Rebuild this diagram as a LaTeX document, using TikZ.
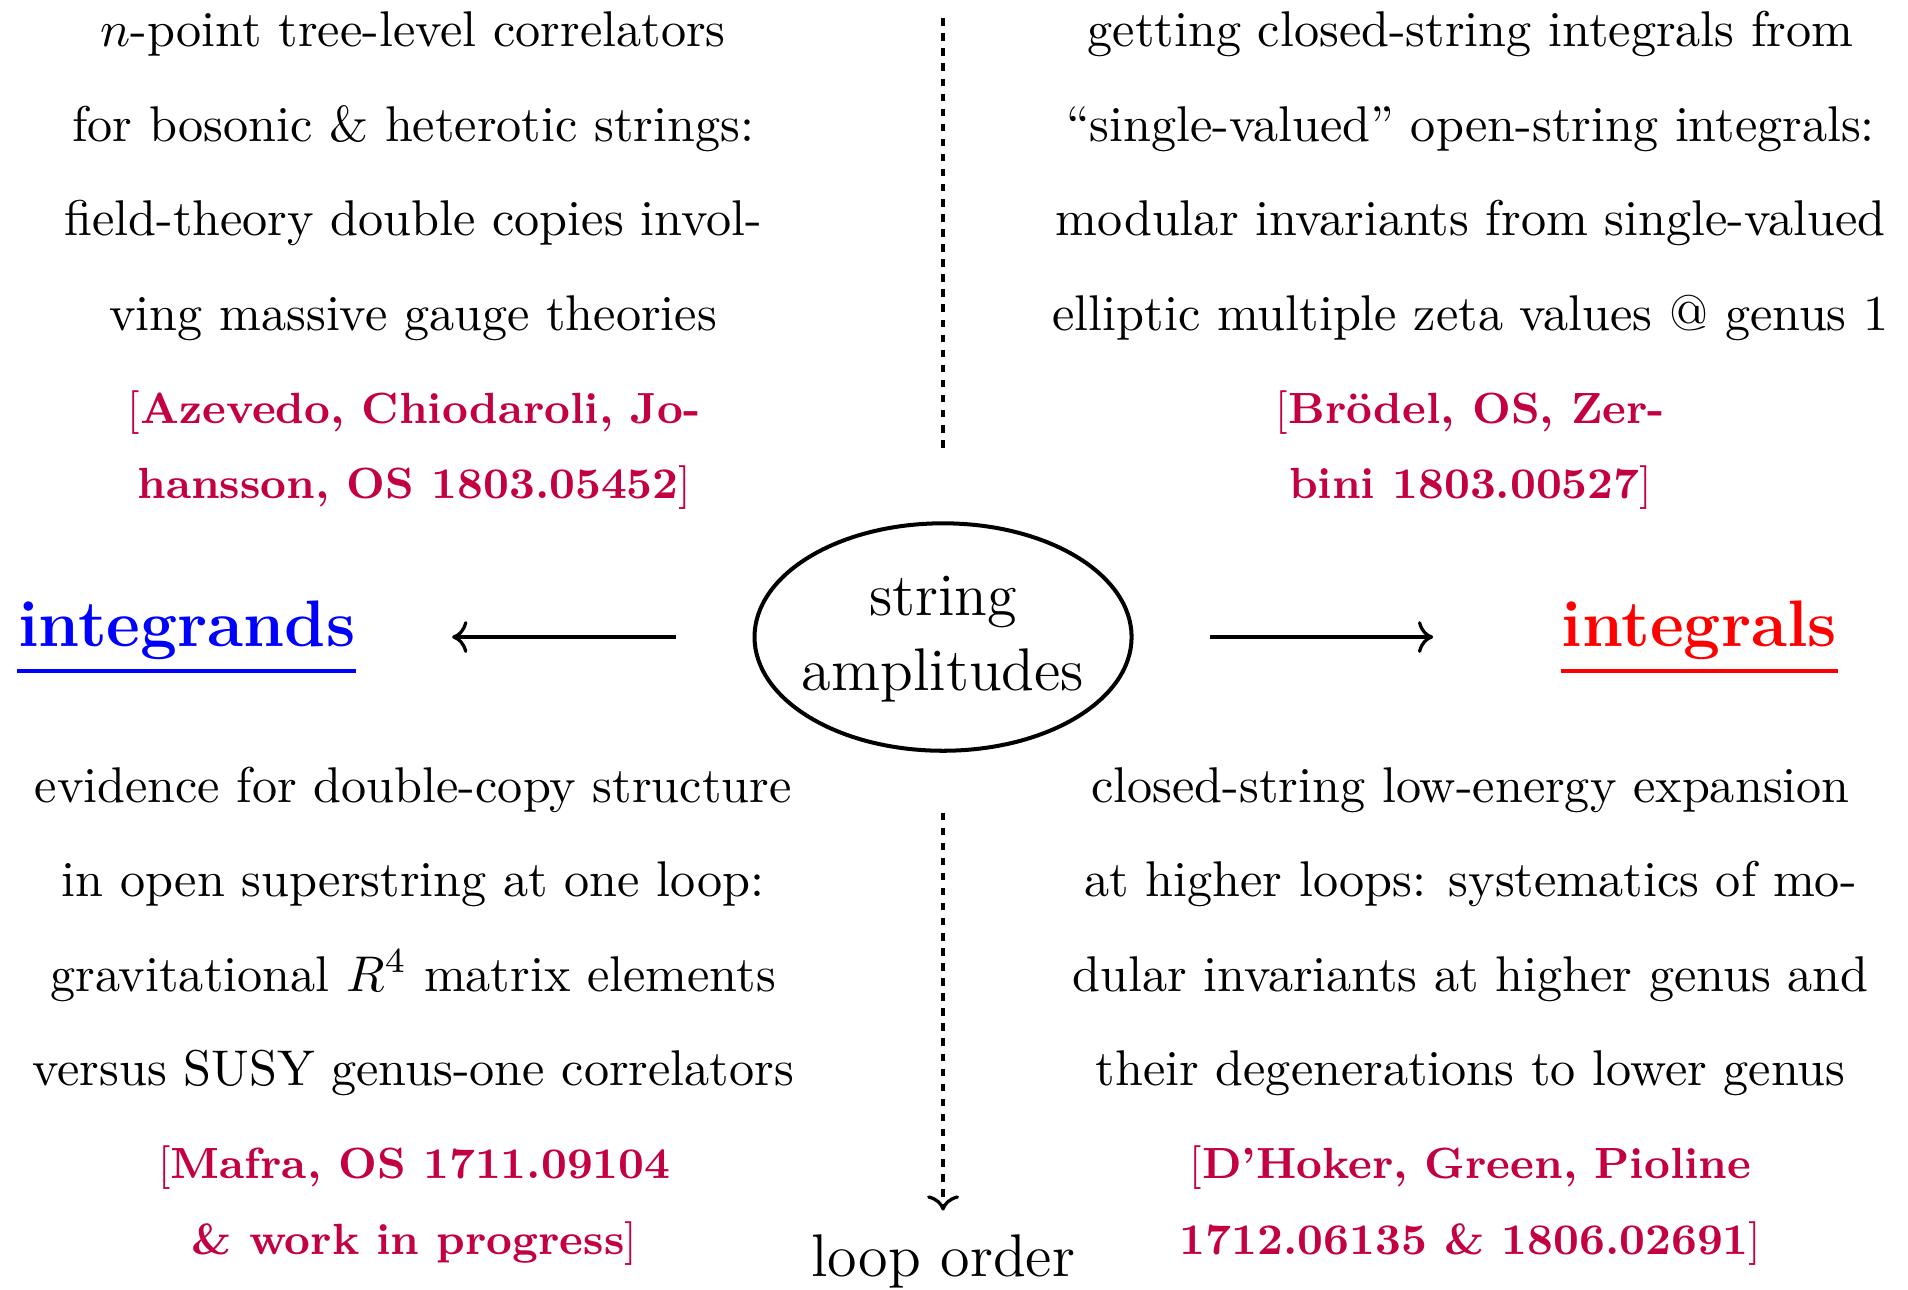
\documentclass[tikz,border=0pt]{standalone}
\usetikzlibrary{shapes.geometric,arrows.meta}
\definecolor{citecol}{RGB}{195,0,65}
\begin{document}
\begin{tikzpicture}[x=0.24235pt,y=-0.24235pt,
  body/.style={align=center,inner sep=0pt,anchor=base,font=\fontsize{10}{18.8}\selectfont},
  cite/.style={align=center,inner sep=0pt,anchor=base,text=citecol,font=\fontsize{8.7}{15.1}\selectfont},
  keyword/.style={inner sep=0pt,anchor=base,font=\fontsize{13.1}{15}\selectfont\bfseries},
  conn/.style={line width=0.65pt,-{To}},
  guide/.style={line width=0.65pt,dash pattern=on 1.5pt off 1.5pt},
  uline/.style={line width=0.8pt},
]
\useasboundingbox (0,0) rectangle (1568,1060);

% centre
\node[ellipse,draw,line width=0.8pt,minimum width=75.1pt,minimum height=45.3pt,inner sep=0pt] (amp) at (775,523.5) {};
\node[inner sep=0pt,anchor=base,align=center,font=\fontsize{12}{15}\selectfont] (amptext) at (775,567.6) {string\\amplitudes};

% side keywords
\node[keyword,text=blue] (intd) at (153.5,531.5) {integrands};
\node[keyword,text=red] (intl) at (1396.5,531.5) {integrals};
\draw[uline,blue] ([yshift=-2pt]intd.south west) -- ([yshift=-2pt]intd.south east);
\draw[uline,red] ([yshift=-2pt]intl.south west) -- ([yshift=-2pt]intl.south east);

\draw[conn,shorten <=15.3pt,shorten >=19.1pt] (amp.west) -- (amp.west -| intd.east);
\draw[conn,shorten <=15.3pt,shorten >=25.4pt] (amp.east) -- (amp.east -| intl.west);

% loop order
\node[inner sep=0pt,anchor=base,font=\fontsize{12}{15}\selectfont] (loop) at (775,1049) {loop order};
\coordinate (topend) at (775,15);
\draw[guide,shorten >=13.6pt] (topend) -- (amp.north);
\draw[guide,-{To},shorten <=11.9pt,shorten >=4.6pt] (amp.south) -- (loop.north);

% top left
\node[body] (tl) at (339.5,271.2) {$n$-point tree-level correlators\\
for bosonic \& heterotic strings:\\
field-theory double copies invol-\\
ving massive gauge theories};
\node[cite] (tlc) at (340.5,410) {[\textbf{Azevedo, Chiodaroli, Jo-}\\
\textbf{hansson, OS 1803.05452}]};

% top right
\node[body] (tr) at (1208.5,271.2) {getting closed-string integrals from\\
“single-valued” open-string integrals:\\
modular invariants from single-valued\\
elliptic multiple zeta values @ genus 1};
\node[cite] (trc) at (1208.5,410) {[\textbf{Brödel, OS, Zer-}\\
\textbf{bini 1803.00527}]};

% bottom left
\node[body] (bl) at (339.5,892) {evidence for double-copy structure\\
in open superstring at one loop:\\
gravitational $R^4$ matrix elements\\
versus SUSY genus-one correlators};
\node[cite] (blc) at (340.5,1031) {[\textbf{Mafra, OS 1711.09104}\\
\textbf{\& work in progress}]};

% bottom right
\node[body] (br) at (1208.5,892) {closed-string low-energy expansion\\
at higher loops: systematics of mo-\\
dular invariants at higher genus and\\
their degenerations to lower genus};
\node[cite] (brc) at (1208.5,1031) {[\textbf{D’Hoker, Green, Pioline}\\
\textbf{1712.06135 \& 1806.02691}]};
\end{tikzpicture}
\end{document}
